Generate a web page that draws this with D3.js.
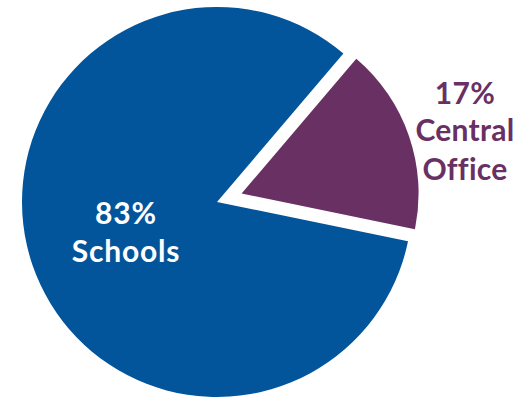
<!DOCTYPE html>
<html>
<head>
<meta charset="utf-8">
<script src="https://cdn.jsdelivr.net/npm/d3@7"></script>
<style>
  html, body { margin: 0; padding: 0; background: #ffffff; }
  svg { display: block; }
</style>
</head>
<body>
<svg id="chart" width="526" height="398"></svg>
<script>
const categories = ["Schools", "Central Office"];
const values = [83, 17];
const labelsPct = ["83%", "17%"];
const colors = ["#02559A", "#693063"];

const svg = d3.select("#chart");
const cx = 217, cy = 202;
const g = svg.append("g").attr("transform", `translate(${cx},${cy})`);

const data = categories.map((c, i) => ({ name: c, value: values[i], pct: labelsPct[i], color: colors[i] }));

const startDeg = 101.6;
const pie = d3.pie().sort(null).value(d => d.value)
  .startAngle(startDeg * Math.PI / 180)
  .endAngle(startDeg * Math.PI / 180 + 2 * Math.PI);
const arcs = pie(data);

const radii = [195, 177];
const explode = [0, 26];

arcs.forEach((a, i) => {
  const mid = (a.startAngle + a.endAngle) / 2;
  const dx = Math.sin(mid) * explode[i];
  const dy = -Math.cos(mid) * explode[i];
  const arc = d3.arc().innerRadius(0).outerRadius(radii[i]);
  g.append("path")
    .attr("d", arc(a))
    .attr("transform", `translate(${dx},${dy})`)
    .attr("fill", a.data.color);
});

const font = "Lato, 'Open Sans', sans-serif";
// Schools label (inside)
const lab0 = svg.append("text")
  .attr("text-anchor", "middle")
  .attr("font-family", font).attr("font-weight", 700)
  .attr("font-size", 30).attr("letter-spacing", 0.8).attr("fill", "#ffffff");
lab0.append("tspan").attr("x", 126).attr("y", 224).text(labelsPct[0]);
lab0.append("tspan").attr("x", 126).attr("y", 262).text(categories[0]);

// Central Office label (outside)
const words = categories[1].split(" ");
const lab1 = svg.append("text")
  .attr("text-anchor", "middle")
  .attr("font-family", font).attr("font-weight", 700)
  .attr("font-size", 30).attr("letter-spacing", 0.3).attr("fill", "#693063");
lab1.append("tspan").attr("x", 465).attr("y", 104).text(labelsPct[1]);
lab1.append("tspan").attr("x", 465).attr("y", 141).text(words[0]);
lab1.append("tspan").attr("x", 465).attr("y", 180).text(words[1]);
</script>
</body>
</html>
